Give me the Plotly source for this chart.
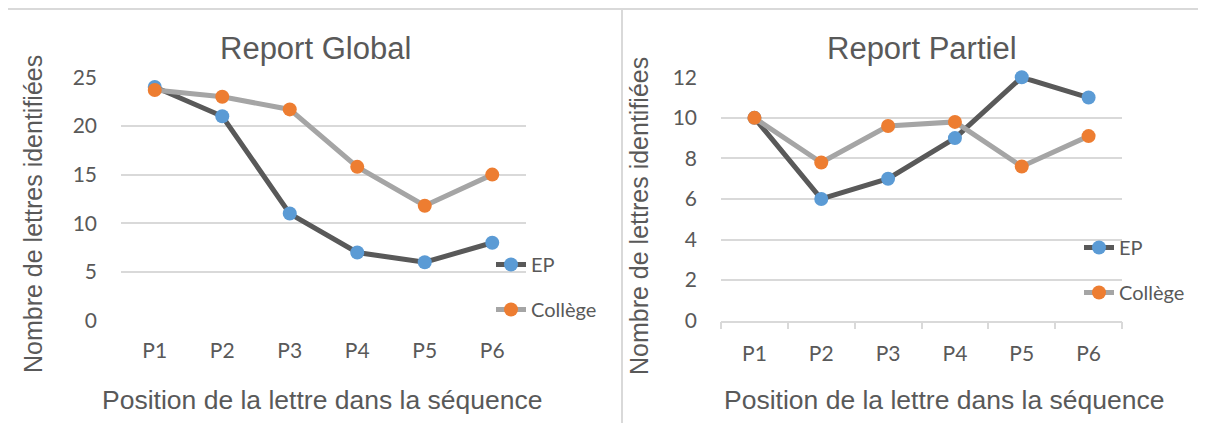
import plotly.graph_objects as go

W, H = 1206, 423
OFF = 8  # page body margin of the html page

categories = ["P1", "P2", "P3", "P4", "P5", "P6"]
global_ep = [24, 21, 11, 7, 6, 8]
global_college = [23.7, 23, 21.7, 15.8, 11.8, 15]
partiel_ep = [10, 6, 7, 9, 12, 11]
partiel_college = [10, 7.8, 9.6, 9.8, 7.6, 9.1]

series_names = ["EP", "Collège"]
line_colors = ["#595959", "#A5A5A5"]
marker_colors = ["#5B9BD5", "#ED7D31"]

TXT = "#595959"
GRID = "#D9D9D9"
TICKFONT = dict(family="Lato", size=21, color=TXT)

def px_x(x):
    return (x - OFF) / W

def px_y(y):
    return 1 - (y - OFF) / H

fig = go.Figure()

panels = [
    dict(xa="x", ya="y", legend="legend", data=[global_ep, global_college]),
    dict(xa="x2", ya="y2", legend="legend2", data=[partiel_ep, partiel_college]),
]
for p in panels:
    for i, vals in enumerate(p["data"]):
        fig.add_trace(go.Scatter(
            x=categories, y=vals, name=series_names[i],
            mode="lines+markers",
            line=dict(color=line_colors[i], width=5),
            marker=dict(color=marker_colors[i], size=14, line=dict(width=0)),
            xaxis=p["xa"], yaxis=p["ya"], legend=p["legend"],
            legendgroup=p["legend"] + series_names[i],
            cliponaxis=False,
        ))

ydom = [px_y(320.6), px_y(77.3)]

fig.update_layout(
    width=W, height=H, autosize=False,
    margin=dict(l=0, r=0, t=0, b=0, autoexpand=False),
    paper_bgcolor="white", plot_bgcolor="white",
    showlegend=True,
    xaxis=dict(domain=[px_x(121), px_x(526)], range=[-0.5, 5.5], type="category",
               showgrid=False, zeroline=False, showline=False, ticks="",
               tickfont=TICKFONT, ticklabelstandoff=15, fixedrange=True, automargin=False),
    yaxis=dict(domain=ydom, range=[0, 25], dtick=5, showgrid=True, gridcolor=GRID,
               gridwidth=1.5, zeroline=False, showline=False, ticks="",
               tickfont=TICKFONT, ticklabelstandoff=23, fixedrange=True, automargin=False),
    xaxis2=dict(domain=[px_x(721), px_x(1122)], range=[-0.5, 5.5], type="category",
                anchor="y2", showgrid=False, zeroline=False, showline=True,
                linecolor=GRID, linewidth=1.5, ticks="outside", tickson="boundaries",
                ticklen=7, tickcolor=GRID, tickwidth=1.5,
                tickfont=TICKFONT, ticklabelstandoff=13, fixedrange=True, automargin=False),
    yaxis2=dict(domain=ydom, range=[0, 12], dtick=2, anchor="x2", showgrid=True,
                gridcolor=GRID, gridwidth=1.5, zeroline=False, showline=False, ticks="",
                tickfont=TICKFONT, ticklabelstandoff=23, fixedrange=True, automargin=False),
    legend=dict(x=px_x(491), y=px_y(245), xanchor="left", yanchor="top",
                font=dict(family="Lato", size=20, color=TXT),
                bgcolor="rgba(0,0,0,0)", traceorder="grouped", tracegroupgap=16,
                itemclick=False),
    legend2=dict(x=px_x(1079), y=px_y(228), xanchor="left", yanchor="top",
                 font=dict(family="Lato", size=20, color=TXT),
                 bgcolor="rgba(0,0,0,0)", traceorder="grouped", tracegroupgap=16,
                 itemclick=False),
)

title_font = dict(family="Liberation Sans", size=31, color=TXT)
xtitle_font = dict(family="Liberation Sans", size=26.5, color=TXT)
ytitle_font = dict(family="Liberation Sans", size=25, color=TXT)
annotations = [
    dict(text="Report Global", x=px_x(315), y=px_y(48), font=title_font),
    dict(text="Report Partiel", x=px_x(922), y=px_y(48), font=title_font),
    dict(text="Position de la lettre dans la séquence", x=px_x(322), y=px_y(400), font=xtitle_font),
    dict(text="Position de la lettre dans la séquence", x=px_x(944), y=px_y(400), font=xtitle_font),
    dict(text="Nombre de lettres identifiées", x=px_x(33), y=px_y(214), font=ytitle_font, textangle=-90),
    dict(text="Nombre de lettres identifiées", x=px_x(639), y=px_y(216), font=ytitle_font, textangle=-90),
]
for a in annotations:
    fig.add_annotation(xref="paper", yref="paper", xanchor="center", yanchor="middle",
                       showarrow=False, **a)

border = dict(color=GRID, width=2)
shapes = [
    dict(type="line", x0=0, x1=1, y0=px_y(9), y1=px_y(9)),
    dict(type="line", x0=px_x(622), x1=px_x(622), y0=px_y(8), y1=0),
]
for s in shapes:
    fig.add_shape(xref="paper", yref="paper", line=border, layer="below", **s)

fig.write_html("out.html")
